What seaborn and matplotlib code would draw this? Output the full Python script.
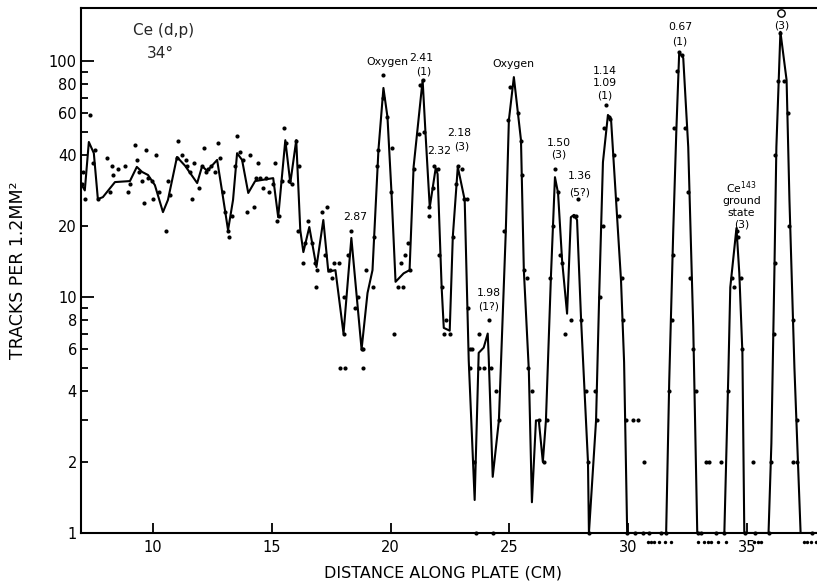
import matplotlib
matplotlib.use("Agg")
import matplotlib.pyplot as plt
import matplotlib.ticker as mticker
import seaborn as sns
import pandas as pd

# ---------------- data ----------------
# smooth hand-drawn curve (vertices), distance in cm, tracks per 1.2 mm^2
curve_cm = [6.96, 7.13, 7.30, 7.51, 7.68, 7.89, 8.40, 9.03, 9.32, 9.54, 9.79, 10.08, 10.42, 10.63,
            11.01, 11.35, 11.86, 12.07, 12.28, 12.70, 12.91, 13.16, 13.37, 13.54, 13.75, 14.01,
            14.30, 15.06, 15.27, 15.57, 15.78, 16.03, 16.20, 16.33, 16.58, 16.88, 17.17, 17.38,
            17.68, 18.02, 18.35, 18.78, 19.03, 19.24, 19.49, 19.70, 19.87, 20.04, 20.21, 20.55,
            20.80, 20.97, 21.35, 21.48, 21.65, 21.90, 21.98, 22.15, 22.24, 22.49, 22.62, 22.83,
            23.12, 23.29, 23.54, 23.71, 23.92, 24.09, 24.13, 24.30, 24.56, 24.85, 24.98, 25.19,
            25.49, 25.61, 25.82, 25.95, 26.12, 26.24, 26.41, 26.54, 26.75, 26.92, 27.05, 27.22,
            27.43, 27.59, 27.72, 27.85, 28.02, 28.31, 28.35, 28.65, 28.78, 28.94, 29.15, 29.28,
            29.49, 29.70, 29.83, 29.96, 31.60, 31.73, 31.90, 32.03, 32.15, 32.32, 32.53, 32.74,
            32.91, 34.05, 34.22, 34.30, 34.56, 34.68, 34.81, 34.89, 35.91, 36.03, 36.16, 36.24,
            36.41, 36.67, 36.79, 37.00, 37.26, 38.20]
curve_counts = [30.4, 28.3, 45.4, 40.7, 26.0, 26.5, 30.7, 31.0, 35.6, 33.9, 32.9, 29.8, 22.9, 25.8,
                39.2, 36.0, 30.4, 35.9, 34.2, 38.1, 28.0, 19.2, 25.8, 40.7, 38.1, 27.6,
                31.0, 31.9, 21.8, 46.2, 30.4, 46.2, 19.2, 15.5, 19.8, 13.4, 21.2, 12.8,
                13.0, 7.0, 17.8, 6.0, 10.4, 13.0, 42.0, 76.9, 57.9, 27.6, 11.6, 12.6,
                13.0, 35.6, 83.1, 47.6, 24.0, 35.2, 33.2, 11.0, 7.4, 7.2, 18.0, 35.6,
                25.8, 5.4, 1.38, 5.8, 6.1, 7.0, 5.6, 1.73, 3.0, 18.9, 56.2, 85.5,
                46.2, 13.0, 4.9, 1.35, 3.0, 3.0, 2.0, 3.0, 12.2, 32.2, 27.6, 14.3,
                8.5, 21.8, 22.3, 21.2, 8.0, 2.0, 1.0, 3.0, 10.0, 37.3, 59.1, 56.8,
                25.8, 11.8, 5.3, 1.0, 1.0, 4.4, 19.2, 51.0, 109.0, 103.0, 43.2, 7.5,
                1.0, 1.0, 4.8, 11.0, 19.6, 12.6, 5.8, 1.0, 1.0, 2.4, 13.4, 43.2,
                133.0, 83.0, 25.8, 5.0, 1.0, 1.0]

# measured points
dot_cm = [7.34, 7.05, 7.00, 7.13, 7.47, 7.55, 7.68, 8.06, 8.19, 8.27, 8.31, 8.52, 8.82, 8.95, 9.03,
          9.24, 9.32, 9.41, 9.54, 9.62, 9.70, 9.79, 9.96, 10.00, 10.13, 10.25, 10.55, 10.63, 10.72,
          11.01, 11.05, 11.22, 11.39, 11.43, 11.56, 11.65, 11.73, 11.94, 12.07, 12.15, 12.24, 12.32,
          12.45, 12.62, 12.74, 12.83, 12.95, 13.04, 13.16, 13.21, 13.33, 13.46, 13.54, 13.67, 13.80,
          13.97, 14.09, 14.26, 14.35, 14.43, 14.51, 14.64, 14.77, 14.89, 15.06, 15.15, 15.23, 15.32,
          15.44, 15.53, 15.61, 15.74, 15.86, 16.03, 16.12, 16.16, 16.33, 16.41, 16.54, 16.71, 16.84,
          16.88, 16.92, 17.13, 17.22, 17.34, 17.43, 17.55, 17.64, 17.85, 17.89, 18.02, 18.06, 18.10,
          18.19, 18.35, 18.52, 18.61, 18.78, 18.86, 18.86, 18.95, 19.24, 19.32, 19.45, 19.49, 19.70,
          19.70, 19.83, 20.00, 20.04, 20.13, 20.30, 20.51, 20.46, 20.59, 20.72, 20.80, 20.97, 21.18,
          21.22, 21.35, 21.39, 21.60, 21.60, 21.77, 21.81, 21.98, 22.03, 22.15, 22.24, 22.32, 22.49,
          22.62, 22.74, 22.83, 23.00, 23.08, 23.21, 23.25, 23.33, 23.33, 23.42, 23.50, 23.59, 23.71,
          23.71, 23.92, 24.13, 24.22, 24.30, 24.43, 24.56, 24.77, 24.94, 25.02, 25.36, 25.49, 25.53,
          25.61, 25.74, 25.78, 25.95, 26.24, 26.46, 26.58, 26.71, 26.84, 26.92, 27.05, 27.13, 27.22,
          27.34, 27.59, 27.72, 27.81, 27.89, 28.02, 28.23, 28.31, 28.35, 28.61, 28.69, 28.82, 28.94,
          28.99, 29.07, 29.20, 29.24, 29.41, 29.54, 29.62, 29.75, 29.79, 29.92, 29.96, 30.21, 30.42,
          30.67, 30.29, 30.63, 30.89, 31.39, 31.60, 31.73, 31.86, 31.90, 31.94, 32.07, 32.15, 32.28,
          32.41, 32.53, 32.61, 32.74, 32.87, 32.95, 33.08, 33.29, 33.42, 33.71, 33.92, 34.05, 34.22,
          34.39, 34.47, 34.60, 34.64, 34.73, 34.81, 34.94, 35.27, 35.32, 35.91, 36.03, 36.16, 36.20,
          36.20, 36.29, 36.41, 36.58, 36.75, 36.79, 36.96, 36.96, 37.09, 37.09, 37.72]
dot_counts = [59, 34, 30, 26, 37, 42, 26, 39, 28, 36, 33, 35, 36, 28, 30,
              44, 38, 34, 31, 25, 42, 32, 31, 26, 40, 28, 19, 31, 27,
              39, 46, 40, 38, 36, 34, 26, 37, 29, 36, 43, 34, 35,
              36, 34, 45, 39, 28, 23, 19, 18, 22, 36, 48, 41, 38,
              23, 40, 24, 32, 37, 32, 29, 32, 28, 30, 37, 21, 22,
              31, 52, 45, 31, 30, 46, 19, 36, 14, 17, 21, 17, 14,
              11, 13, 23, 15, 24, 13, 12, 14, 14, 5, 10, 7, 5,
              15, 19, 9, 10, 6, 6, 5, 13, 11, 18, 36, 42, 87,
              70, 58, 28, 43, 7, 11, 11, 14, 15, 17, 13, 35, 49,
              79, 83, 50, 22, 24, 29, 36, 35, 15, 11, 7, 8, 7,
              18, 30, 36, 35, 26, 26, 9, 6, 5, 6, 2, 1, 7,
              5, 5, 8, 5, 1, 4, 3, 19, 56, 78, 60, 46, 33,
              13, 12, 5, 4, 3, 2, 3, 12, 20, 35, 28, 15, 14,
              7, 8, 22, 22, 26, 8, 4, 2, 1, 4, 3, 10, 20,
              52, 65, 58, 57, 40, 26, 22, 12, 8, 3, 1, 3, 3,
              2, 1, 1, 1, 1, 1, 4, 8, 15, 52, 91, 109, 106,
              52, 28, 12, 6, 4, 1, 1, 2, 2, 1, 2, 1, 4,
              12, 11, 19, 18, 12, 6, 1, 2, 1, 1, 2, 7, 14,
              40, 82, 131, 82, 60, 20, 8, 2, 2, 3, 1]
# points with zero tracks (drawn just under the axis)
zero_cm = [30.84, 30.96, 31.08, 31.30, 31.56, 31.81, 32.95, 33.20, 33.35, 33.50, 33.80, 34.10,
           35.30, 35.45, 35.60, 37.40, 37.55, 37.70, 37.90]
# point off the top of the scale (open circle)
open_cm = [36.45]
open_counts = [160]

# level annotations
labels_text = ["Oxygen", "2.41", "(1)", "2.18", "2.32", "(3)", "Oxygen", "2.87", "1.98", "(1?)",
               "1.50", "(3)", "1.36", "(5?)", "1.14", "1.09", "(1)", "0.67", "(1)",
               "Ce$^{143}$", "ground", "state", "(3)", "(3)"]
labels_cm = [19.85, 21.27, 21.39, 22.90, 22.06, 22.98, 25.19, 18.52, 24.13, 24.13,
             27.09, 27.09, 27.97, 27.97, 29.03, 29.03, 29.03, 32.19, 32.19,
             34.77, 34.77, 34.77, 34.77, 36.45]
labels_counts = [99, 103, 90.7, 49.5, 41.6, 43.3, 97, 21.8, 10.4, 9.1,
                 45, 40, 32.6, 27.6, 90.5, 80.7, 71.5, 139, 121.5,
                 29.0, 25.6, 22.8, 20.3, 142]

decade_ticks = [1, 10, 100]
labeled_ticks = [2, 4, 6, 8, 20, 40, 60, 80]
unlabeled_ticks = [3, 5, 7, 9, 50, 70, 90]
x_ticks = [10, 15, 20, 25, 30, 35]

# ---------------- figure ----------------
sns.set_theme(style="white")
plt.rcParams["font.family"] = ["DejaVu Sans"]

fig = plt.figure(figsize=(8.17, 5.84), dpi=100)
ax = fig.add_axes([81 / 817, 51 / 584, 736 / 817, 525 / 584])
ax.set_yscale("log")

curve_df = pd.DataFrame({"cm": curve_cm, "counts": curve_counts})
dots_df = pd.DataFrame({"cm": dot_cm, "counts": dot_counts})

sns.lineplot(data=curve_df, x="cm", y="counts", sort=False, estimator=None,
             color="black", linewidth=1.5, ax=ax, zorder=3)
sns.scatterplot(data=dots_df, x="cm", y="counts", color="black", s=9,
                linewidth=0, ax=ax, zorder=4, clip_on=False)

xmin, xmax = 6.97, 37.95
ymin, ymax = 1.0, 167.8
ax.set_xlim(xmin, xmax)
ax.set_ylim(ymin, ymax)

ax.scatter(zero_cm, [ymin * 0.915] * len(zero_cm), s=6, color="black", linewidths=0,
           clip_on=False, zorder=4)
ax.scatter(open_cm, open_counts, s=28, facecolors="white", edgecolors="black",
           linewidths=1.0, clip_on=False, zorder=5)

for t, xc, yc in zip(labels_text, labels_cm, labels_counts):
    ax.text(xc, yc, t, fontsize=7.8, ha="center", va="center", color="black", zorder=6)

ax.text(10.45, 135, "Ce (d,p)", fontsize=11, ha="center", va="center")
ax.text(10.30, 108, "34°", fontsize=11, ha="center", va="center")

# axes styling
for side in ["left", "bottom", "top"]:
    ax.spines[side].set_color("black")
    ax.spines[side].set_linewidth(1.5)
ax.spines["right"].set_visible(False)

# decades: long major ticks; others: short minor ticks (some labeled)
ax.yaxis.set_major_locator(mticker.FixedLocator(decade_ticks))
ax.yaxis.set_major_formatter(mticker.FixedFormatter([str(v) for v in decade_ticks]))
minor_all = sorted(labeled_ticks + unlabeled_ticks)
ax.yaxis.set_minor_locator(mticker.FixedLocator(minor_all))
ax.yaxis.set_minor_formatter(mticker.FixedFormatter(
    [str(v) if v in labeled_ticks else "" for v in minor_all]))

ax.set_xticks(x_ticks)
ax.set_xticklabels([str(v) for v in x_ticks])

ax.tick_params(axis="y", which="major", direction="in", length=9, width=1.3,
               labelsize=10.5, pad=3, left=True, colors="black")
ax.tick_params(axis="y", which="minor", direction="in", length=5, width=1.3,
               labelsize=10.5, pad=3, left=True, colors="black")
ax.tick_params(axis="x", which="major", direction="in", length=7, width=1.3,
               labelsize=10.5, pad=5, bottom=True, colors="black")
ax.tick_params(axis="x", which="minor", bottom=False)

ax.set_xlabel("DISTANCE ALONG PLATE (CM)", fontsize=11.5, color="black")
ax.set_ylabel("TRACKS PER 1.2MM²", fontsize=12.5, color="black")
ax.xaxis.set_label_coords(0.492, -0.062)
ax.yaxis.set_label_coords(-0.073, 0.5)
ax.grid(False)

fig.savefig("out.png", dpi=100)
